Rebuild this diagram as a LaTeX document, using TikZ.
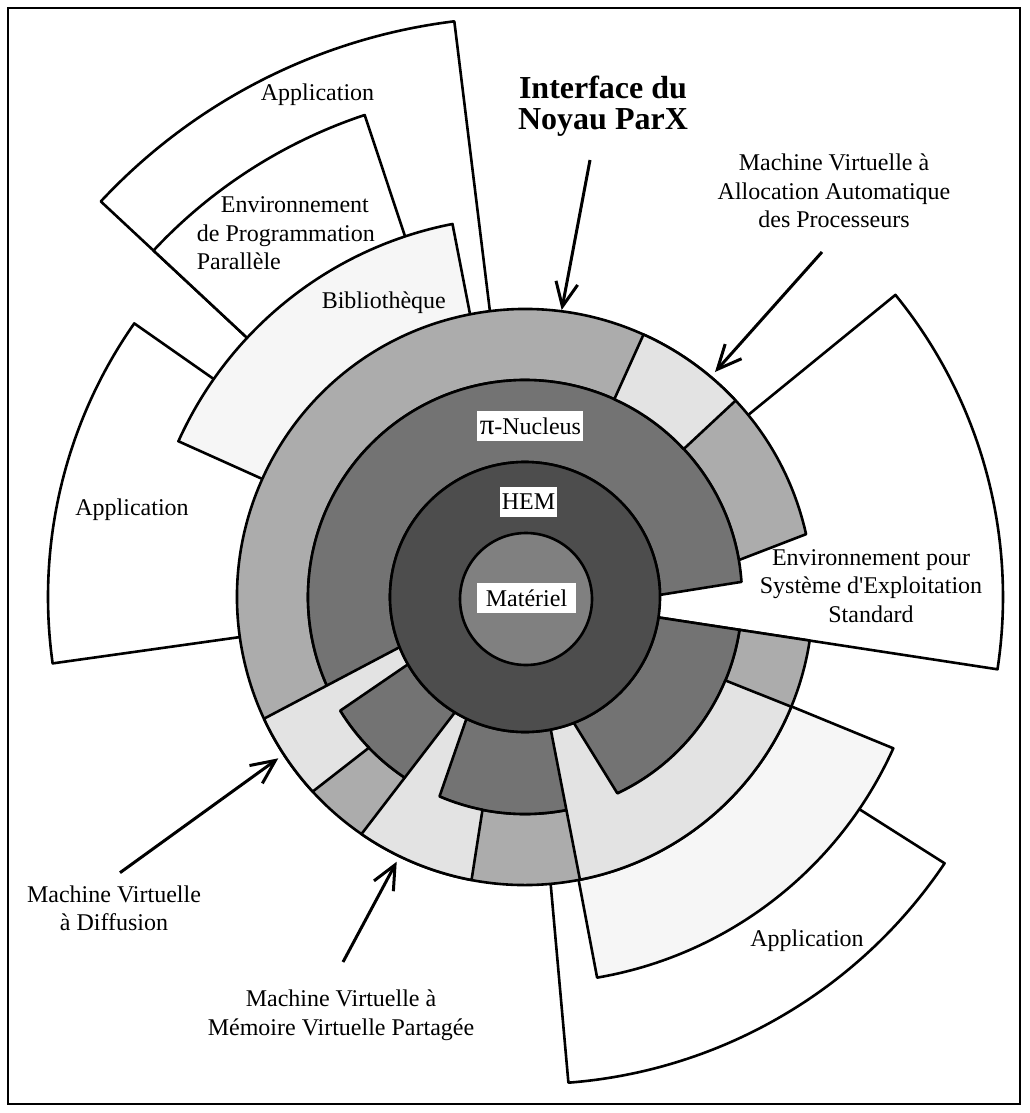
\documentclass[tikz,border=0pt]{standalone}
\usepackage{fontspec}
\setmainfont{Liberation Serif}
\usetikzlibrary{arrows.meta}
\definecolor{ringgray}{HTML}{ACACAC}
\definecolor{lightseg}{HTML}{E3E3E3}
\definecolor{paleseg}{HTML}{F6F6F6}
\definecolor{nucgray}{HTML}{737373}
\definecolor{hemgray}{HTML}{4D4D4D}
\definecolor{matgray}{HTML}{808080}
\begin{document}
\begin{tikzpicture}[x=1pt,y=1pt,
  part/.style={draw=black, line width=2.6pt, line join=round},
  lbl/.style={font=\fontsize{24}{28.5}\selectfont, align=center, inner sep=0pt},
  titlelbl/.style={font=\fontsize{32}{31}\selectfont\bfseries, align=center, inner sep=0pt},
  boxlbl/.style={fill=white, font=\fontsize{24}{28}\selectfont, inner sep=0pt, minimum height=30pt},
  pointer/.style={line width=3pt, -{Straight Barb[length=24pt,width=22pt]}},
]
\useasboundingbox (0,0) rectangle (1029,-1113);
\draw[line width=2.4pt] (8,-8) rectangle (1020,-1104);
\begin{scope}[shift={(525,-597)}]
  % Application (top)
  \draw[part, fill=white] (0,0) -- (97:580) arc[start angle=97, end angle=137, radius=580] -- cycle;
  % Environnement de Programmation Parallele
  \draw[part, fill=white] (0,0) -- (108.4:508) arc[start angle=108.4, end angle=137, radius=508] -- cycle;
  % Application (left)
  \draw[part, fill=white] (0,0) -- (145:477) arc[start angle=145, end angle=188, radius=477] -- cycle;
  % Bibliotheque
  \draw[part, fill=paleseg] (0,0) -- (101:380) arc[start angle=101, end angle=155.8, radius=380] -- cycle;
  % Environnement pour Systeme d'Exploitation Standard
  \draw[part, fill=white] (0,0) -- (-8.7:478) arc[start angle=-8.7, end angle=39.2, radius=478] -- cycle;
  % Application (bottom right), white part (outer arc centred slightly above the rings' centre)
  \draw[part, fill=white] (0,0) -- (419.6,-266.3) arc[start angle=-33.9, end angle=-85.6, radius=499.4] -- cycle;
  % Application (bottom right), pale part
  \draw[part, fill=paleseg] (0,0) -- (368.3,-151.3) arc[start angle=-24.2, end angle=-80.3, radius=398.3] -- cycle;
  % outer ring
  \draw[part, fill=ringgray] (9.8:217) -- (12.6:288) arc[start angle=12.6, end angle=351.3, radius=288]
        -- (351.3:217) arc[start angle=351.3, end angle=9.8, radius=217] -- cycle;
  % pi-Nucleus ring
  \draw[part, fill=nucgray] (0.9:135) -- (4:217) arc[start angle=4, end angle=351.3, radius=217]
        -- (351.3:135) arc[start angle=351.3, end angle=0.9, radius=135] -- cycle;
  % MV Allocation automatique
  \draw[part, fill=lightseg] (43:217) -- (43:288) arc[start angle=43, end angle=65.7, radius=288]
        -- (65.7:217) arc[start angle=65.7, end angle=43, radius=217] -- cycle;
  % MV Diffusion
  \draw[part, fill=lightseg] (205:288) -- (201.8:135) arc[start angle=201.8, end angle=209.9, radius=135]
        -- (211.6:217) arc[start angle=211.6, end angle=224, radius=217]
        -- (222.5:288) arc[start angle=222.5, end angle=205, radius=288] -- cycle;
  % MV Memoire Virtuelle Partagee
  \draw[part, fill=lightseg] (235.4:288) -- (238.7:135) arc[start angle=238.7, end angle=244.3, radius=135]
        -- (246.8:217) arc[start angle=246.8, end angle=258.7, radius=217]
        -- (259.3:288) arc[start angle=259.3, end angle=235.4, radius=288] -- cycle;
  % bottom right light part
  \draw[part, fill=lightseg] (281:288) -- (281:135) arc[start angle=281, end angle=291.2, radius=135]
        -- (295.2:217) arc[start angle=295.2, end angle=337.4, radius=217]
        -- (337.6:288) arc[start angle=337.6, end angle=281, radius=288] -- cycle;
  % HEM
  \draw[part, fill=hemgray] (0,0) circle[radius=135];
  % Materiel
  \draw[part, fill=matgray] (1,-2) circle[radius=66];
\end{scope}

% labels
\node[titlelbl] (ttl) at (603,-106.3) {Interface du\\Noyau ParX};
\node[lbl] (alloc) at (834,-191) {Machine Virtuelle à\\Allocation Automatique\\des Processeurs};
\node[lbl] (envsys) at (871,-586) {Environnement pour\\Système d\textquotesingle Exploitation\\Standard};
\node[lbl] (apptop) at (317.5,-94.4) {Application};
\node[lbl] (appleft) at (132,-510) {Application};
\node[lbl] (appbr) at (807,-941) {Application};
\node[lbl] (bib) at (383.8,-302.7) {Bibliothèque};
\node[lbl, align=left, anchor=west] (envprog) at (196.7,-233.5) {\hspace*{24pt}Environnement\\de Programmation\\Parallèle};
\node[lbl] (diff) at (114,-908.5) {Machine Virtuelle\\à Diffusion};
\node[lbl] (mvp) at (341,-1015) {Machine Virtuelle à\\Mémoire Virtuelle Partagée};
\node[boxlbl, minimum width=106pt] (nuc) at (530.4,-426.4) {{\fontsize{29}{29}\selectfont π}-Nucleus};
\node[boxlbl, minimum width=57pt] (hem) at (528.5,-501.6) {HEM};
\node[boxlbl, minimum width=99pt] (mat) at (526.5,-598.2) {Matériel};

% arrows
\coordinate (ttlA) at (590,-160);
\coordinate (ttlB) at (561.7,-310);
\coordinate (allocA) at (822,-252);
\coordinate (allocB) at (715,-372);
\coordinate (diffA) at (120,-872.7);
\coordinate (diffB) at (278.3,-758.3);
\coordinate (mvpA) at (343,-962);
\coordinate (mvpB) at (396.7,-861.7);
\draw[pointer] (ttlA) -- (ttlB);
\draw[pointer] (allocA) -- (allocB);
\draw[pointer] (diffA) -- (diffB);
\draw[pointer] (mvpA) -- (mvpB);
\end{tikzpicture}
\end{document}
